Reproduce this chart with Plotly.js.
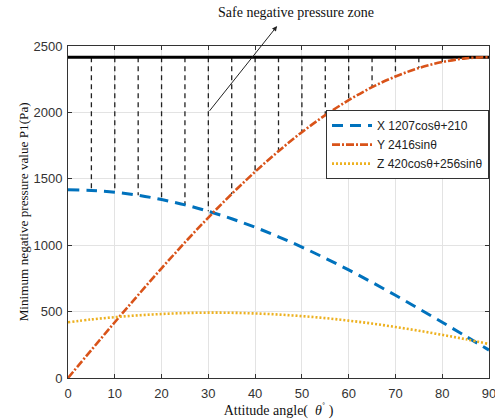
<!DOCTYPE html>
<html>
<head>
<meta charset="utf-8">
<script src="https://cdn.plot.ly/plotly-3.0.1.min.js"></script>
<style>html,body{margin:0;padding:0;background:#fff}#chart{width:495px;height:420px}</style>
</head>
<body>
<div id="chart"></div>
<script>
// Attitude angle (degrees)
const angles = [0,5,10,15,20,25,30,35,40,45,50,55,60,65,70,75,80,85,90];
// X 1207cosθ+210
const xSeries = [1417,1412,1399,1376,1344,1304,1255,1199,1135,1063,986,902,814,720,623,522,420,315,210];
// Y 2416sinθ
const ySeries = [0,211,420,625,826,1021,1208,1386,1553,1708,1851,1979,2092,2190,2270,2334,2379,2407,2416];
// Z 420cosθ+256sinθ
const zSeries = [420,441,458,472,482,489,492,491,486,478,466,451,432,410,384,356,325,292,256];
// Safe level line
const safeLevel = 2416;
// Angles of the vertical hatching lines
const zoneAngles = [5,10,15,20,25,30,35,40,45,50,55,60,65,70,75,80,85];
const legendNames = ['X 1207cos\u03b8+210','Y 2416sin\u03b8','Z 420cos\u03b8+256sin\u03b8'];
const xTicks = [0,10,20,30,40,50,60,70,80,90];
const yTicks = [0,500,1000,1500,2000,2500];

const hx = [], hy = [];
zoneAngles.forEach(a => {
  const i = angles.indexOf(a);
  const bottom = Math.max(xSeries[i], ySeries[i]);
  hx.push(a, a, null);
  hy.push(safeLevel, bottom, null);
});

const serif = 'Liberation Serif, Times New Roman, serif';
const sans = 'Liberation Sans, Arial, sans-serif';

const traces = [
  {x: hx, y: hy, mode: 'lines', line: {color: '#222', width: 1.3, dash: '5px,4px'}, showlegend: false, hoverinfo: 'skip'},
  {x: [angles[0], angles[angles.length-1]], y: [safeLevel, safeLevel], mode: 'lines', line: {color: '#000', width: 3}, showlegend: false},
  {x: angles, y: xSeries, name: legendNames[0], mode: 'lines', line: {color: '#0072BD', width: 3, dash: '11px,7px', shape: 'spline'}},
  {x: angles, y: ySeries, name: legendNames[1], mode: 'lines', line: {color: '#D95319', width: 2.6, dash: '8px,2px,2px,2px', shape: 'spline'}},
  {x: angles, y: zSeries, name: legendNames[2], mode: 'lines', line: {color: '#EDB120', width: 2.6, dash: '2px,2px', shape: 'spline'}}
];

const layout = {
  width: 495, height: 420,
  margin: {l: 68, r: 6, t: 46, b: 42},
  paper_bgcolor: '#fff', plot_bgcolor: '#fff',
  font: {family: sans, size: 13, color: '#333'},
  xaxis: {
    range: [0, 90], tickvals: xTicks, ticktext: xTicks.map(String),
    showgrid: true, gridcolor: '#e3e3e3', gridwidth: 1,
    showline: true, linecolor: '#333', linewidth: 1, mirror: 'ticks',
    ticks: 'inside', ticklen: 4, tickcolor: '#333', ticklabelstandoff: 3,
    ticklabeloverflow: 'allow',
    zeroline: false, automargin: false,
    title: {text: 'Attitude angle(  <i>\u03b8</i><sup>\u02da</sup> )', font: {family: serif, size: 14, color: '#111'}, standoff: 5}
  },
  yaxis: {
    range: [0, 2500], tickvals: yTicks, ticktext: yTicks.map(String),
    showgrid: true, gridcolor: '#e3e3e3', gridwidth: 1,
    showline: true, linecolor: '#333', linewidth: 1, mirror: 'ticks',
    ticks: 'inside', ticklen: 4, tickcolor: '#333', ticklabelstandoff: 2,
    zeroline: false, automargin: false
  },
  legend: {
    x: 1, y: 0.807, xanchor: 'right', yanchor: 'top',
    bgcolor: '#fff', bordercolor: '#333', borderwidth: 1,
    font: {family: sans, size: 12, color: '#222'},
    itemwidth: 40, tracegroupgap: 0
  },
  showlegend: true,
  annotations: [
    {xref: 'x', yref: 'y', x: 44.7, y: 2650, axref: 'x', ayref: 'y', ax: 30, ay: 2000,
     showarrow: true, arrowhead: 2, arrowsize: 1, arrowwidth: 1, arrowcolor: '#222', text: ''},
    {xref: 'paper', yref: 'paper', x: 0.5416, y: 1.0994, xanchor: 'center', yanchor: 'middle', showarrow: false,
     text: 'Safe negative pressure zone', font: {family: serif, size: 14, color: '#111'}},
    {xref: 'paper', yref: 'paper', x: -0.106, y: 0.5, xanchor: 'center', yanchor: 'middle', showarrow: false, textangle: -90,
     text: 'Minimum negative pressure value P1(Pa)', font: {family: serif, size: 13.2, color: '#111'}}
  ]
};

Plotly.newPlot('chart', traces, layout, {displayModeBar: false, staticPlot: true});
</script>
</body>
</html>
